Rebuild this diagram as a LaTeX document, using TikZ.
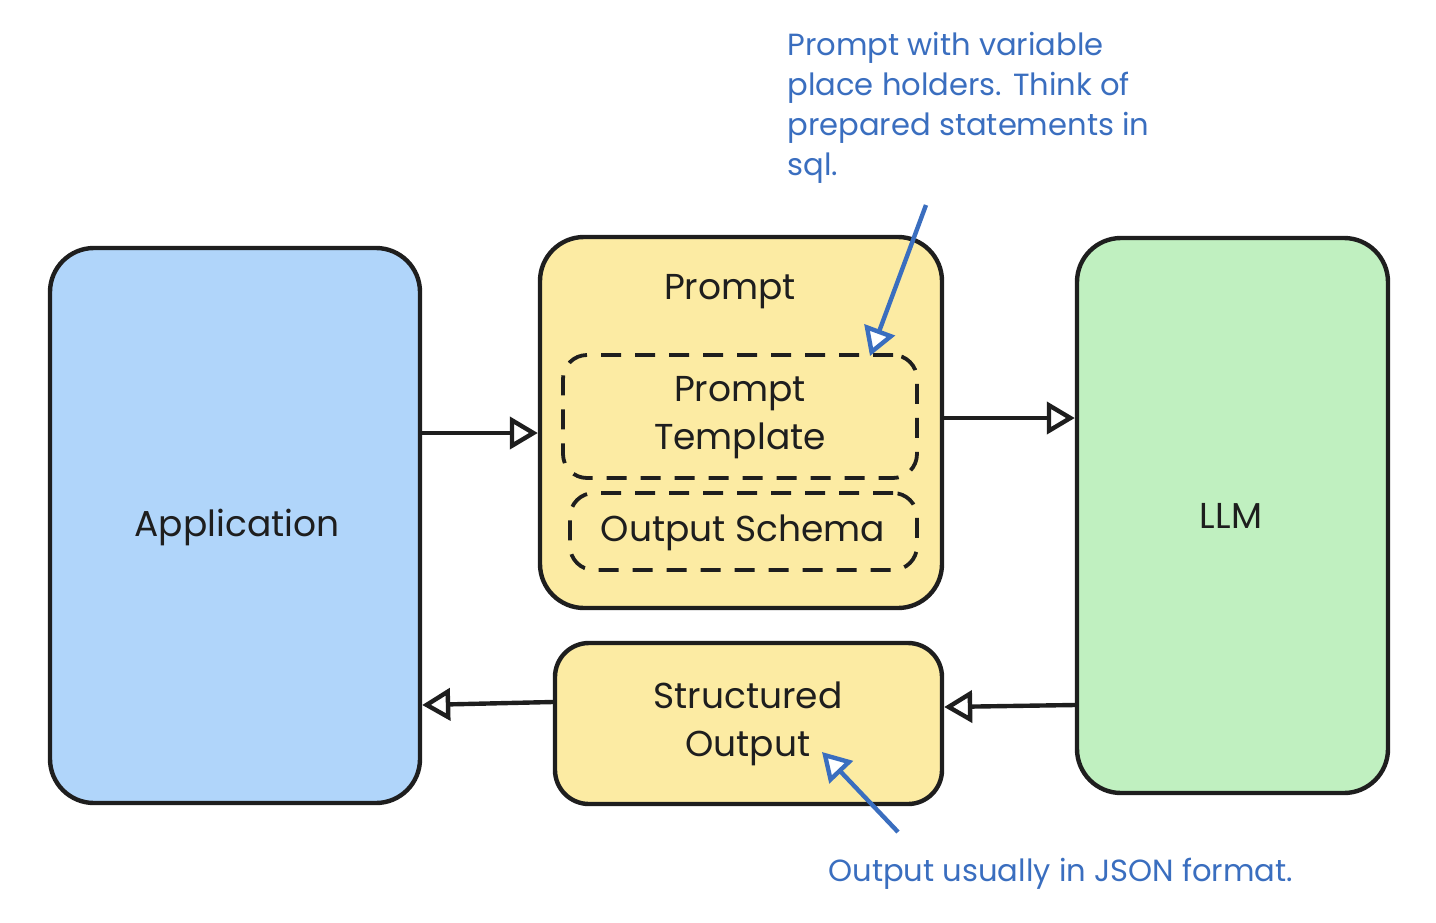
\documentclass[tikz,border=0pt]{standalone}
\usepackage{fontspec}
\setmainfont{Poppins}
\usetikzlibrary{arrows.meta}
\definecolor{strokec}{HTML}{1E1E1E}
\definecolor{bluefill}{HTML}{B0D5FA}
\definecolor{yellowfill}{HTML}{FCEBA3}
\definecolor{greenfill}{HTML}{C0F0C0}
\definecolor{noteblue}{HTML}{3A6EBF}
\tikzset{
  box/.style={draw=strokec, line width=2.2pt, rounded corners=22pt, inner sep=0pt},
  dbox/.style={draw=strokec, line width=1.9pt, dash pattern=on 10pt off 7pt, rounded corners=12pt, inner sep=0pt},
  lbl/.style={text=strokec, font=\fontsize{18}{24}\selectfont, align=center, inner sep=0pt},
  note/.style={text=noteblue, font=\fontsize{15.3}{20}\selectfont, align=left, inner sep=0pt},
  arr/.style={draw=strokec, line width=2.2pt, -{Triangle[open, length=14pt, width=16pt, fill=white]}},
  narr/.style={draw=noteblue, line width=2.2pt, -{Triangle[open, length=14pt, width=16pt, fill=white]}},
}
\begin{document}
\begin{tikzpicture}[x=0.5pt, y=-0.5pt]
\useasboundingbox (0,0) rectangle (1436,922);
% main boxes
\node[box, fill=bluefill, minimum width=185pt, minimum height=277.5pt] (app) at (235,525.5) {};
\node[lbl] (applbl) at (237,527) {Application};
\node[box, fill=yellowfill, minimum width=201pt, minimum height=185.5pt] (prompt) at (741,422.5) {};
\node[lbl] (promptlbl) at (730,292) {Prompt};
\node[dbox, minimum width=177pt, minimum height=61.5pt] (tmpl) at (740,416.5) {};
\node[lbl] (tmpllbl) at (740,418) {Prompt\\Template};
\node[dbox, minimum width=173.5pt, minimum height=38.5pt] (schema) at (743.5,531.5) {};
\node[lbl] (schemalbl) at (743,533) {Output Schema};
\node[box, fill=greenfill, minimum width=155.5pt, minimum height=277.5pt] (llm) at (1232.5,515.5) {};
\node[lbl] (llmlbl) at (1231,516) {LLM};
\node[box, fill=yellowfill, rounded corners=17pt, minimum width=193.5pt, minimum height=80.5pt] (sout) at (748.5,723.5) {};
\node[lbl] (soutlbl) at (748,724) {Structured\\Output};
% connectors
\draw[arr] (app.east |- 0,433) -- (prompt.west |- 0,433);
\draw[arr] (prompt.east |- 0,418) -- (llm.west |- 0,418);
\draw[arr] (llm.west |- 0,705) -- (sout.east |- 0,707);
\draw[arr] (sout.west |- 0,702) -- (app.east |- 0,705);
% notes
\node[note, anchor=north west] (note1) at (787,32) {Prompt with variable\\place holders. Think of\\prepared statements in\\sql.};
\coordinate (n1s) at (926,205);
\coordinate (n1e) at (870,356);
\draw[narr] (n1s) -- (n1e);
\node[note, anchor=west] (note2) at (828,874) {Output usually in JSON format.};
\coordinate (n2s) at (898,832);
\coordinate (n2e) at (822,752);
\draw[narr] (n2s) -- (n2e);
\end{tikzpicture}
\end{document}
